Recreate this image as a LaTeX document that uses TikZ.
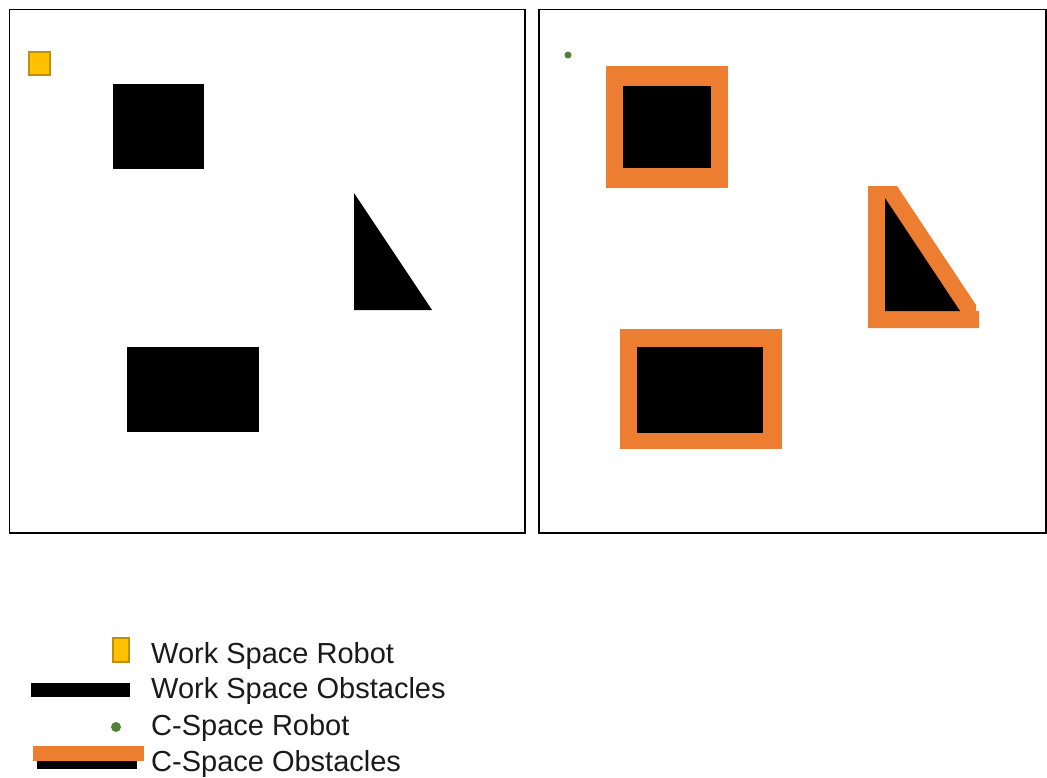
\documentclass[tikz,border=0pt]{standalone}
\usepackage{fontspec}
\setmainfont{Liberation Sans}
\definecolor{robotfill}{HTML}{FFC000}
\definecolor{robotedge}{HTML}{BF9000}
\definecolor{cobst}{HTML}{ED7D31}
\definecolor{crobot}{HTML}{548235}
\definecolor{legtext}{HTML}{1A1A1A}
\tikzset{
	frame/.style={draw=black, line width=1.8pt},
	wsobst/.style={fill=black},
	csobst/.style={fill=cobst},
	wsrobot/.style={fill=robotfill, draw=robotedge, line width=2pt},
	csrobot/.style={fill=crobot},
	legend/.style={anchor=base west, inner sep=0pt, text=legtext, font=\fontsize{29}{31}\selectfont}
}
\begin{document}
\begin{tikzpicture}[x=1pt, y=-1pt]
	\useasboundingbox (0,0) rectangle (1047,777);
	\draw[frame] (9.5,9.5) rectangle (525,533);
	\draw[frame] (539,9.5) rectangle (1046,533);
	\draw[wsrobot] (29,52) rectangle (50,75);
	\fill[wsobst] (113,84) rectangle (204,169);
	\fill[wsobst] (354,193) -- (354,310) -- (432,310) -- cycle;
	\fill[wsobst] (127,347) rectangle (259,432);
	\fill[csrobot] (568,55) circle (3.5);
	\fill[csobst] (606,66) rectangle (728,188);
	\fill[wsobst] (623,86) rectangle (711,168);
	\fill[csobst] (868,186) -- (897,186) -- (976,305) -- (976,311) -- (979,311) -- (979,328) -- (868,328) -- cycle;
	\fill[wsobst] (885,198) -- (885,311) -- (960,311) -- cycle;
	\fill[csobst] (620,329) rectangle (782,449);
	\fill[wsobst] (637,347) rectangle (763,433);
	\draw[wsrobot] (113,638) rectangle (129,662);
	\fill[wsobst] (31,683) rectangle (130,697);
	\fill[csrobot] (116,727) circle (5);
	\fill[wsobst] (37,752) rectangle (137,769);
	\fill[csobst] (33,746) rectangle (144,761);
	\node[legend] (lwsrobot) at (151,663) {Work Space Robot};
	\node[legend] (lwsobst) at (151,698) {Work Space Obstacles};
	\node[legend] (lcsrobot) at (151,735) {C-Space Robot};
	\node[legend] (lcsobst) at (151,771) {C-Space Obstacles};
\end{tikzpicture}
\end{document}
